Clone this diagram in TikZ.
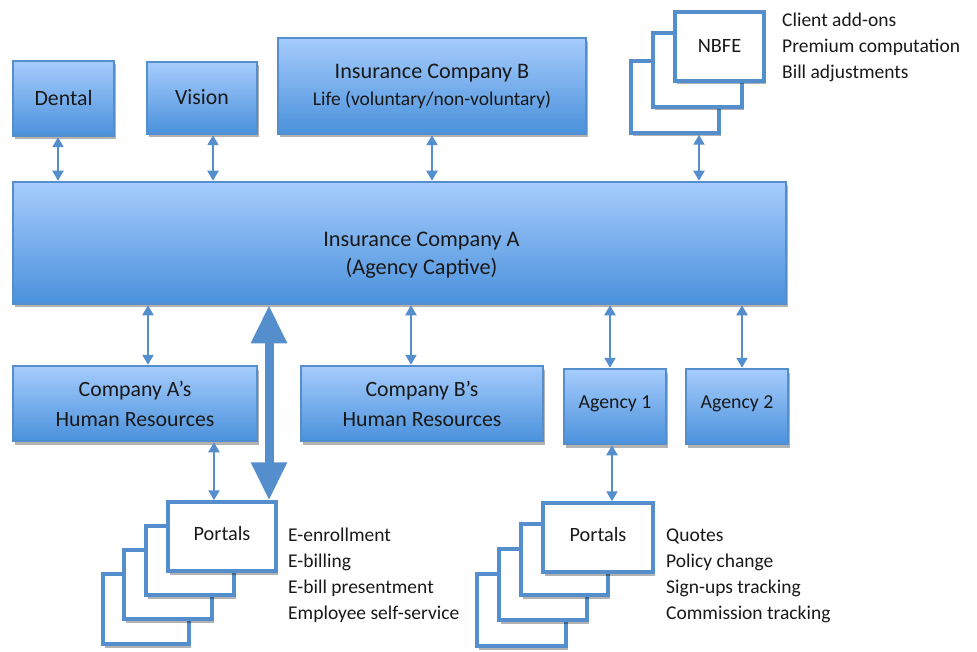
\documentclass[tikz,border=0pt]{standalone}
\usepackage{fontspec}
\setmainfont{Carlito}
\usetikzlibrary{arrows.meta,shadows}
\definecolor{boxtop}{RGB}{166,204,252}
\definecolor{boxmid}{RGB}{136,184,240}
\definecolor{boxbot}{RGB}{74,145,220}
\definecolor{edgeblue}{RGB}{84,142,204}
\definecolor{inkgray}{RGB}{25,25,25}
\tikzset{
  softshadow/.style={drop shadow={shadow xshift=1.5pt, shadow yshift=-3.5pt, opacity=0.3, fill=black}},
  bluebox/.style={draw=edgeblue, line width=2.5pt, top color=boxtop, middle color=boxmid, bottom color=boxbot,
    inner sep=0pt, softshadow, font=\fontsize{21.8}{30}\selectfont, align=center, text=inkgray},
  paperbox/.style={draw=edgeblue, line width=3.5pt, fill=white, inner sep=0pt, softshadow,
    font=\fontsize{20.3}{24}\selectfont, align=center, text=inkgray},
  link/.style={draw=edgeblue, line width=2.2pt,
    {Triangle[width=11pt,length=10pt]}-{Triangle[width=11pt,length=10pt]}},
  bigarrow/.style={draw=edgeblue, line width=9pt,
    {Triangle[width=34pt,length=38pt]}-{Triangle[width=34pt,length=38pt]}},
  listtext/.style={inner sep=0pt, anchor=base west, font=\fontsize{19.5}{26}\selectfont, text=inkgray},
}
\newcommand\mybox[7]{\node[#1, minimum width={#5-#3}, minimum height={#6-#4}] (#2) at ({(#3+#5)/2},{(#4+#6)/2}) {#7};}
\begin{document}
\begin{tikzpicture}[x=1pt,y=-1pt]
\useasboundingbox (0,0) rectangle (977,652);
% top row
\mybox{bluebox}{dental}{13}{61}{114}{136}{\raisebox{2pt}{Dental}}
\mybox{bluebox}{vision}{147}{62}{257}{134}{\raisebox{1pt}{Vision}}
\mybox{bluebox,font=\fontsize{22.2}{30}\selectfont}{insB}{278}{38}{586}{134}{\raisebox{0pt}{Insurance Company B}\\[-3pt]{\fontsize{19.5}{24}\selectfont Life (voluntary/non-voluntary)}}
\mybox{paperbox}{nbfethree}{631}{61}{719}{133}{}
\mybox{paperbox}{nbfetwo}{653}{33}{742}{107}{}
\mybox{paperbox}{nbfe}{675}{12}{764}{81}{\raisebox{2pt}{NBFE}}
\node[listtext] (nbfelist) at (782,27) {\begin{tabular}[t]{@{}l@{}}Client add-ons\\Premium computation\\Bill adjustments\end{tabular}};
% main box
\mybox{bluebox}{insA}{13}{182}{786}{304}{}
\node[font=\fontsize{22.3}{28}\selectfont, align=center, text=inkgray, xshift=22pt, yshift=-12pt] (insAtext) at (insA.center) {Insurance Company A\\(Agency Captive)};
% bottom row
\mybox{bluebox}{hrA}{13}{366}{257}{441}{Company A's\\Human Resources}
\mybox{bluebox}{hrB}{301}{366}{543}{441}{Company B's\\Human Resources}
\mybox{bluebox,font=\fontsize{19.8}{24}\selectfont}{agone}{564}{369}{666}{444}{\raisebox{8pt}{Agency 1}}
\mybox{bluebox,font=\fontsize{19.8}{24}\selectfont}{agtwo}{686}{369}{788}{444}{\raisebox{8pt}{Agency 2}}
% left portals
\mybox{paperbox}{plfour}{103}{574}{189}{644}{}
\mybox{paperbox}{plthree}{124}{550}{212}{619}{}
\mybox{paperbox}{pltwo}{146}{526}{234}{595}{}
\mybox{paperbox}{pl}{168}{502}{276}{571}{\raisebox{6pt}{Portals}}
\node[listtext] (pllist) at (288,541) {\begin{tabular}[t]{@{}l@{}}E-enrollment\\E-billing\\E-bill presentment\\Employee self-service\end{tabular}};
% right portals
\mybox{paperbox}{prfour}{477}{574}{566}{646}{}
\mybox{paperbox}{prthree}{499}{549}{587}{620}{}
\mybox{paperbox}{prtwo}{521}{524}{608}{595}{}
\mybox{paperbox}{pr}{543}{503}{653}{572}{\raisebox{6pt}{Portals}}
\node[listtext] (prlist) at (666,541) {\begin{tabular}[t]{@{}l@{}}Quotes\\Policy change\\Sign-ups tracking\\Commission tracking\end{tabular}};
% connectors top
\draw[link] ([xshift=-5.5pt]dental.south) -- ([xshift=-5.5pt]dental.south |- insA.north);
\draw[link] ([xshift=11pt]vision.south) -- ([xshift=11pt]vision.south |- insA.north);
\draw[link] (insB.south) -- (insB.south |- insA.north);
\draw[link] ([xshift=24pt]nbfethree.south) -- ([xshift=24pt]nbfethree.south |- insA.north);
% connectors bottom
\draw[link] ([xshift=13pt]hrA.north) -- ([xshift=13pt]hrA.north |- insA.south);
\draw[link] ([xshift=-11pt]hrB.north) -- ([xshift=-11pt]hrB.north |- insA.south);
\draw[link] ([xshift=-5pt]agone.north) -- ([xshift=-5pt]agone.north |- insA.south);
\draw[link] ([xshift=5pt]agtwo.north) -- ([xshift=5pt]agtwo.north |- insA.south);
\draw[link] ([xshift=79pt]hrA.south) -- ([xshift=79pt]hrA.south |- pl.north);
\draw[link] ([xshift=-3pt]agone.south) -- ([xshift=-3pt]agone.south |- pr.north);
\coordinate (bigx) at (269,0);
\draw[bigarrow] (bigx |- insA.south) -- (bigx |- pl.north);
\end{tikzpicture}
\end{document}
